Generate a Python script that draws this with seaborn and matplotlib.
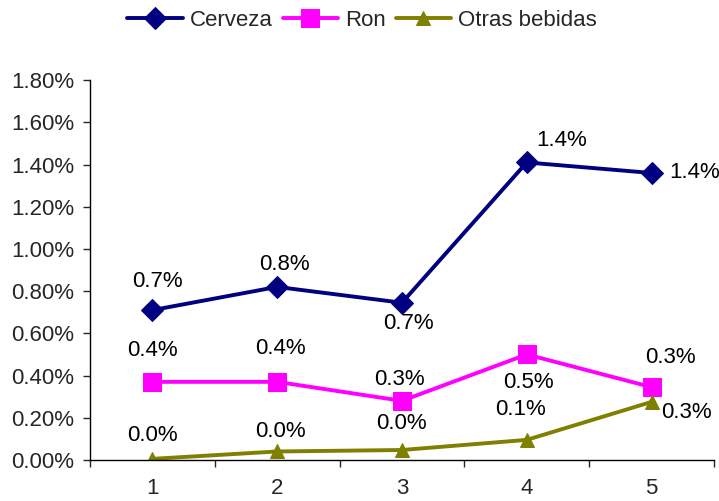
import matplotlib
matplotlib.use('Agg')
import matplotlib.pyplot as plt
import seaborn as sns
import pandas as pd
from matplotlib.ticker import FuncFormatter, MultipleLocator

# data (percent)
periodos = [1, 2, 3, 4, 5]
cerveza = [0.71, 0.82, 0.745, 1.41, 1.36]
ron = [0.37, 0.37, 0.28, 0.50, 0.345]
otras = [0.005, 0.04, 0.047, 0.095, 0.275]
series = ['Cerveza', 'Ron', 'Otras bebidas']

# label offsets from each point, in pixels (dx right, dy up)
label_off = {
    'Cerveza': [(5, 29), (7, 22), (7, -21), (35, 22), (43, 0)],
    'Ron': [(0, 31), (3, 33), (-2, 21), (2, -28), (19, 30)],
    'Otras bebidas': [(0, 23), (3, 20), (0, 27), (-6, 30), (35, -11)],
}

df = pd.DataFrame({
    'periodo': periodos * 3,
    'valor': cerveza + ron + otras,
    'serie': [s for s in series for _ in periodos],
})

sns.set_style('white')
plt.rcParams['font.family'] = ['Liberation Sans', 'DejaVu Sans']
FS = 16

fig = plt.figure(figsize=(7.19, 5.01), dpi=100)
ax = fig.add_axes([0.125, 0.082, 0.868, 0.758])

colors = {'Cerveza': '#000080', 'Ron': '#FF00FF', 'Otras bebidas': '#808000'}
markers = {'Cerveza': 'D', 'Ron': 's', 'Otras bebidas': '^'}
sizes = {'Cerveza': 11, 'Ron': 13, 'Otras bebidas': 10}

for s in series:
    sub = df[df['serie'] == s]
    sns.lineplot(data=sub, x='periodo', y='valor', ax=ax, color=colors[s],
                 marker=markers[s], markersize=sizes[s], markeredgecolor=colors[s],
                 linewidth=2.8, label=s)
    for (xv, yv), (dx, dy) in zip(zip(sub['periodo'], sub['valor']), label_off[s]):
        ax.annotate(f'{yv:.1f}%', (xv, yv), xytext=(dx * 0.72, dy * 0.72),
                    textcoords='offset points', ha='center', va='center',
                    fontsize=FS, color='black')

ax.set_xlim(0.5, 5.5)
ax.set_ylim(0, 1.8)
ax.yaxis.set_major_locator(MultipleLocator(0.2))
ax.yaxis.set_major_formatter(FuncFormatter(lambda v, _: f'{v:.2f}%'))
ax.set_xticks(periodos)
ax.set_xticks([0.5, 1.5, 2.5, 3.5, 4.5, 5.5], minor=True)
ax.tick_params(axis='x', which='major', length=0, labelsize=FS, pad=13)
ax.tick_params(axis='x', which='minor', length=5, width=1, direction='out', bottom=True)
ax.tick_params(axis='y', length=5, width=1, direction='out', left=True, labelsize=FS, pad=6)
ax.set_xlabel('')
ax.set_ylabel('')
for sp in ['top', 'right']:
    ax.spines[sp].set_visible(False)
for sp in ['left', 'bottom']:
    ax.spines[sp].set_color('black')
    ax.spines[sp].set_linewidth(1)

ax.legend(loc='center', bbox_to_anchor=(0.436, 1.158), ncol=3, frameon=False,
          fontsize=FS, handlelength=2.5, handletextpad=0.3, columnspacing=0.45,
          borderaxespad=0, borderpad=0)

fig.savefig('out.png', dpi=100)
